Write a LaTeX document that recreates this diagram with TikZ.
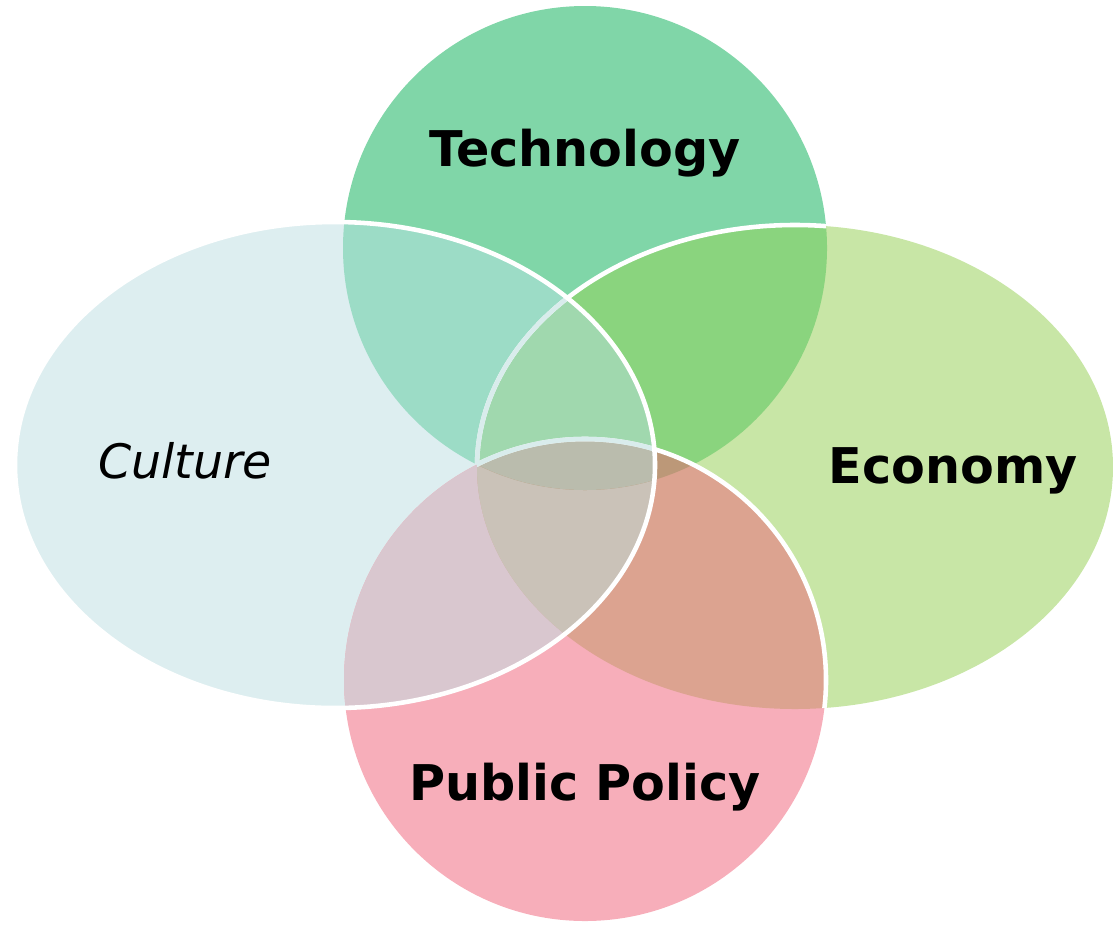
\documentclass[tikz,border=0pt]{standalone}
\usepackage{fontspec}
\setmainfont{DejaVu Sans}
\usepackage{xcolor}
\usepackage{tikz}

% area colours
\definecolor{techgreen}{HTML}{80D6A8}
\definecolor{econgreen}{HTML}{C8E6A6}
\definecolor{cultblue}{HTML}{DDEEF0}
\definecolor{polipink}{HTML}{F7AEBA}
\definecolor{techcult}{HTML}{9CDCC6}
\definecolor{techecon}{HTML}{8AD47E}
\definecolor{cultpoli}{HTML}{D9C7CF}
\definecolor{econpoli}{HTML}{DCA390}
\definecolor{tecult}{HTML}{A0D8AE}
\definecolor{cepoli}{HTML}{CAC2B8}
\definecolor{tepoli}{HTML}{BC9878}
\definecolor{allfour}{HTML}{BABCAD}
\definecolor{rimfade}{HTML}{D9ECEC}

\def\Tech{(585,248) circle[radius=242]}
\def\Econ{(795,467) ellipse[x radius=318, y radius=242]}
\def\Cult{(335,465) ellipse[x radius=320, y radius=243]}
\def\Poli{(585,680) circle[radius=241]}

\begin{document}
\begin{tikzpicture}[
  x=0.01cm, y=-0.01cm,
  rim/.style     = {draw=white, line width=1.3pt},
  softrim/.style = {draw=rimfade, line width=1.3pt},
  lbl/.style     = {font=\bfseries\fontsize{14}{16}\selectfont, anchor=base},
]
\useasboundingbox (0,0) rectangle (1113,924);
% ── single areas ──
\fill[techgreen] \Tech;
\fill[econgreen] \Econ;
\fill[cultblue]  \Cult;
\fill[polipink]  \Poli;
% ── two-way overlaps ──
\begin{scope} \clip \Tech; \fill[techcult] \Cult; \end{scope}
\begin{scope} \clip \Tech; \fill[techecon] \Econ; \end{scope}
\begin{scope} \clip \Cult; \fill[cultpoli] \Poli; \end{scope}
\begin{scope} \clip \Econ; \fill[econpoli] \Poli; \end{scope}
\begin{scope} \clip \Cult; \fill[cepoli]   \Econ; \end{scope}
% ── three-way overlaps ──
\begin{scope} \clip \Tech; \clip \Cult; \fill[tecult] \Econ; \end{scope}
\begin{scope} \clip \Cult; \clip \Econ; \fill[cepoli] \Poli; \end{scope}
\begin{scope} \clip \Tech; \clip \Econ; \fill[tepoli] \Poli; \end{scope}
% ── centre ──
\begin{scope} \clip \Tech; \clip \Cult; \clip \Econ; \fill[allfour] \Poli; \end{scope}
% ── white rims ──
\begin{scope} \clip \Tech; \draw[rim] \Econ; \end{scope}
\begin{scope} \clip \Econ; \draw[rim] \Poli; \end{scope}
\begin{scope} \clip \Cult; \clip \Tech; \draw[softrim] \Econ; \end{scope}
\begin{scope} \clip \Cult; \clip \Econ; \draw[softrim] \Poli; \end{scope}
\draw[rim] \Cult;
% ── labels ──
\node[lbl] (techlbl) at (585,166) {Technology};
\node[lbl] (econlbl) at (953,483) {Economy};
\node[lbl] (polilbl) at (585,800) {Public Policy};
\node[lbl, font=\itshape\fontsize{13.5}{16}\selectfont] (cultlbl) at (185,478) {Culture};
\end{tikzpicture}
\end{document}
